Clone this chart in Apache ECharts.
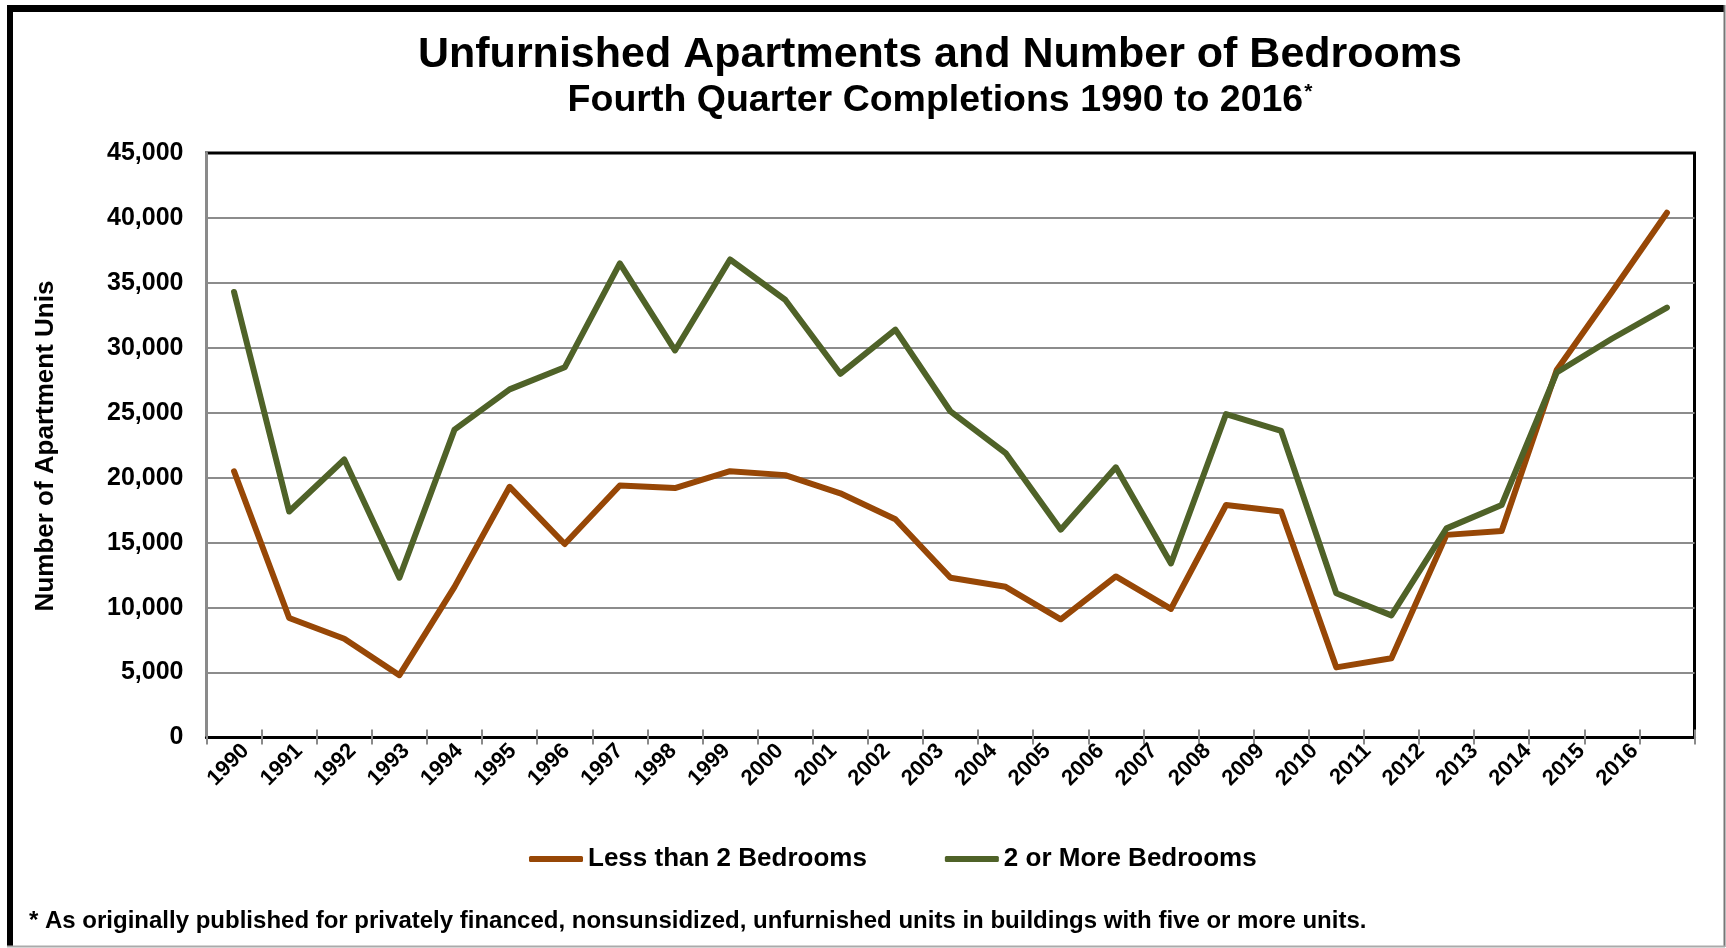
<!DOCTYPE html>
<html>
<head>
<meta charset="utf-8">
<title>Unfurnished Apartments and Number of Bedrooms</title>
<script src="https://cdn.jsdelivr.net/npm/echarts@6/dist/echarts.min.js"></script>
<style>
  html, body { margin: 0; padding: 0; background: #fff; }
  #chart { width: 1726px; height: 948px; }
</style>
</head>
<body>
<div id="chart"></div>
<script>
// data
var years = ["1990","1991","1992","1993","1994","1995","1996","1997","1998","1999",
  "2000","2001","2002","2003","2004","2005","2006","2007","2008","2009",
  "2010","2011","2012","2013","2014","2015","2016"];
var lessThan2 = [20500, 9200, 7600, 4800, 11600, 19300, 14900, 19400, 19200, 20500,
  20200, 18800, 16800, 12300, 11600, 9100, 12400, 9900, 17900, 17400,
  5400, 6100, 15600, 15900, 28300, 34300, 40400];
var twoOrMore = [34300, 17400, 21400, 12300, 23700, 26800, 28500, 36500, 29800, 36800,
  33700, 28000, 31400, 25100, 21900, 16000, 20800, 13400, 24900, 23600,
  11100, 9400, 16100, 17900, 28100, 30700, 33100];
var seriesNames = ["Less than 2 Bedrooms", "2 or More Bedrooms"];
var yMin = 0, yMax = 45000, yStep = 5000;

var FONT = '"Liberation Sans", Arial, sans-serif';

// 文字样式
var textStyle = function (size) {
  return { color: "#000", fontWeight: "bold", fontSize: size, fontFamily: FONT };
};
var lineStyle = function (color, width) {
  return { color: color, width: width };
};
var addCommas = function (v) {
  return String(v).replace(/\B(?=(\d{3})+(?!\d))/g, ",");
};

var chart = echarts.init(document.getElementById("chart"));

var lineSeries = function (name, data, color) {
  return {
    name: name,
    type: "line",
    data: data,
    symbol: "none",
    color: color,
    lineStyle: { color: color, width: 6, cap: "round", join: "round" },
    xAxisIndex: 0,
    yAxisIndex: 0
  };
};

var option = {
  backgroundColor: "#fff",
  animation: false,
  grid: [
    { // plot area
      left: 206.5, top: 153, right: 31.5, bottom: 210.5,
      show: true, borderColor: "#000", borderWidth: 3,
      containLabel: false, outerBoundsMode: "none"
    },
    { // labels only: the original squeezes its year labels a little
      left: 219, top: 153, right: 64.5, bottom: 210.5,
      show: false, containLabel: false, outerBoundsMode: "none"
    }
  ],
  legend: {
    data: seriesNames,
    left: 529, top: 846, padding: 0,
    itemWidth: 54, itemHeight: 6, itemGap: 78,
    icon: "roundRect",
    textStyle: textStyle(26)
  },
  xAxis: [
    {
      type: "category",
      data: years,
      boundaryGap: true,
      axisLine: { lineStyle: lineStyle("#000", 3) },
      axisTick: { show: true, length: 7, lineStyle: lineStyle("#8a8a8a", 2) },
      axisLabel: { show: false },
      splitLine: { show: false }
    },
    {
      // 十字刻度：内侧的一半
      type: "category",
      data: years,
      position: "bottom",
      boundaryGap: true,
      axisLine: { show: false },
      axisTick: { show: true, inside: true, length: 8, lineStyle: lineStyle("#8a8a8a", 2) },
      axisLabel: { show: false },
      splitLine: { show: false }
    },
    {
      gridIndex: 1,
      type: "category",
      data: years,
      boundaryGap: true,
      axisLine: { show: false },
      axisTick: { show: false },
      axisLabel: Object.assign({ rotate: 45, margin: 10, interval: 0 }, textStyle(22)),
      splitLine: { show: false }
    }
  ],
  yAxis: [
    {
      type: "value",
      min: yMin, max: yMax, interval: yStep,
      axisLine: { show: true, lineStyle: lineStyle("#8a8a8a", 3) },
      axisTick: { show: false },
      axisLabel: Object.assign({ margin: 23, formatter: addCommas }, textStyle(25)),
      splitLine: { show: true, showMaxLine: false, lineStyle: lineStyle("#8c8c8c", 2) }
    },
    {
      gridIndex: 1,
      type: "value",
      min: yMin, max: yMax, interval: yStep,
      show: false
    }
  ],
  series: [
    lineSeries(seriesNames[0], lessThan2, "#974706"),
    lineSeries(seriesNames[1], twoOrMore, "#4f6228")
  ],
  graphic: [
    // outer frame
    { type: "rect", shape: { x: 7, y: 5, width: 6, height: 942 }, style: { fill: "#000" }, silent: true },
    { type: "rect", shape: { x: 7, y: 5, width: 1717, height: 7 }, style: { fill: "#000" }, silent: true },
    { type: "line", shape: { x1: 1724.5, y1: 5, x2: 1724.5, y2: 947 }, style: { stroke: "#777", lineWidth: 2 }, silent: true },
    { type: "line", shape: { x1: 7, y1: 946.5, x2: 1725, y2: 946.5 }, style: { stroke: "#aaa", lineWidth: 2 }, silent: true },
    // titles
    {
      type: "text", x: 940, y: 55, silent: true,
      style: {
        text: "Unfurnished Apartments and Number of Bedrooms",
        font: "bold 43px " + FONT, fill: "#000", align: "center", verticalAlign: "middle"
      }
    },
    {
      type: "text", x: 940, y: 101, silent: true,
      style: {
        text: "Fourth Quarter Completions 1990 to 2016{sup|*}",
        font: "bold 37.5px " + FONT, fill: "#000", align: "center", verticalAlign: "middle",
        rich: { sup: { font: "bold 21px " + FONT, fill: "#000", verticalAlign: "top", padding: [0, 0, 14, 1] } }
      }
    },
    // y axis name
    {
      type: "text", x: 46, y: 446, rotation: Math.PI / 2, silent: true,
      style: {
        text: "Number of Apartment Unis",
        font: "bold 26px " + FONT, fill: "#000", align: "center", verticalAlign: "middle"
      }
    },
    // footnote
    {
      type: "text", x: 29, y: 921, silent: true,
      style: {
        text: "* As originally published for privately financed, nonsunsidized, unfurnished units in buildings with five or more units.",
        font: "bold 24px " + FONT, fill: "#000", align: "left", verticalAlign: "middle"
      }
    }
  ]
};

chart.setOption(option);
</script>
</body>
</html>
